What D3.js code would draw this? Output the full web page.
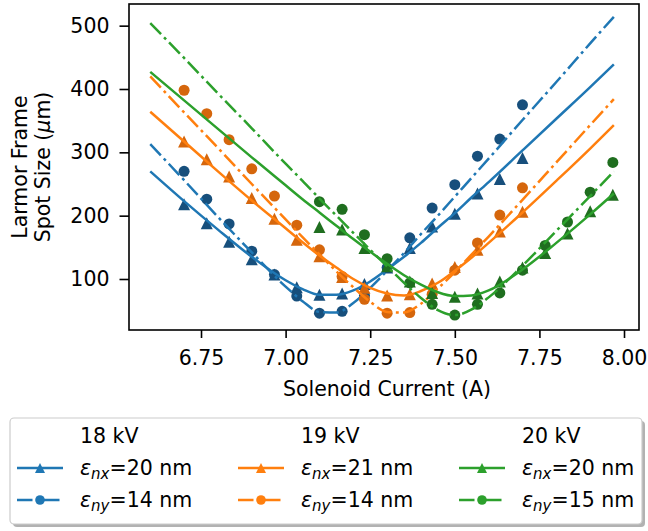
<!DOCTYPE html>
<html>
<head>
<meta charset="utf-8">
<script src="https://cdn.jsdelivr.net/npm/d3@7.9.0/dist/d3.min.js"></script>
<style>
  body { margin: 0; background: #fff; }
  svg { display: block; font-family: "DejaVu Sans", sans-serif; }
</style>
</head>
<body>
<svg id="chart" width="648" height="531"></svg>
<script>
// ---------------- data ----------------
const energies = ["18 kV", "19 kV", "20 kV"];
const emitX = [20, 21, 20];
const emitY = [14, 14, 15];

// measured spot sizes (um)
const currents18 = [6.7, 6.767, 6.833, 6.9, 6.967, 7.033, 7.1, 7.167, 7.233, 7.3, 7.367, 7.433, 7.5, 7.567, 7.633, 7.7];
const currents19 = [6.7, 6.767, 6.833, 6.9, 6.967, 7.033, 7.1, 7.167, 7.233, 7.3, 7.367, 7.433, 7.5, 7.567, 7.633, 7.7];
const currents20 = [7.1, 7.167, 7.233, 7.3, 7.367, 7.433, 7.5, 7.567, 7.633, 7.7, 7.767, 7.833, 7.9, 7.967];

const sizeX18 = [218, 188, 159, 131, 107, 87, 75, 77, 92, 118, 149, 183, 203, 235, 258, 291];
const sizeY18 = [270, 226, 187, 144, 107, 73, 46, 49, 74, 118, 165, 212, 249, 294, 321, 375];
const sizeX19 = [317, 289, 262, 228, 195, 162, 136, 103, 86, 74, 76, 93, 119, 146, 175, 206];
const sizeY19 = [398, 361, 320, 274, 231, 185, 146, 104, 68, 46, 47, 76, 114, 157, 201, 244];
const sizeX20 = [182, 178, 149, 120, 96, 78, 72, 77, 96, 118, 141, 172, 207, 233];
const sizeY20 = [222, 210, 170, 132, 94, 60, 43, 60, 78, 114, 153, 190, 237, 284];

// fitted envelopes
const fitCurrents = [6.6, 6.7, 6.8, 6.9, 7.0, 7.05, 7.1, 7.15, 7.2, 7.25, 7.3, 7.35, 7.4, 7.45, 7.5, 7.55, 7.6, 7.7, 7.8, 7.9, 7.97];
const fitX18 = [270, 223, 178, 135, 98, 84, 75, 75, 82, 96, 115, 135, 157, 181, 204, 229, 253, 303, 353, 403, 439];
const fitY18 = [313, 256, 198, 142, 88, 65, 48, 47, 62, 86, 113, 141, 171, 200, 230, 260, 290, 351, 411, 472, 514];
const fitX19 = [364, 317, 270, 224, 180, 158, 137, 118, 100, 86, 77, 74, 81, 94, 113, 134, 157, 205, 255, 306, 343];
const fitY19 = [420, 363, 307, 250, 194, 166, 139, 112, 87, 64, 48, 47, 61, 85, 111, 139, 167, 225, 284, 343, 384];
const fitX20 = [427, 382, 337, 292, 248, 226, 205, 184, 163, 143, 124, 106, 91, 79, 73, 74, 82, 115, 157, 202, 235];
const fitY20 = [504, 449, 393, 338, 282, 255, 227, 200, 173, 146, 120, 94, 70, 51, 43, 52, 71, 121, 176, 231, 270];

const xTicks = [6.75, 7.00, 7.25, 7.50, 7.75, 8.00];
const yTicks = [100, 200, 300, 400, 500];

const lineColors = ["#1f77b4", "#ff7f0e", "#2ca02c"];
const markColors = ["#174f7c", "#d5660c", "#1f6e1f"];

const groups = [
  { cur: currents18, sx: sizeX18, sy: sizeY18, fx: fitX18, fy: fitY18 },
  { cur: currents19, sx: sizeX19, sy: sizeY19, fx: fitX19, fy: fitY19 },
  { cur: currents20, sx: sizeX20, sy: sizeY20, fx: fitX20, fy: fitY20 }
];

// ---------------- layout ----------------
const svg = d3.select("#chart");
const plot = { left: 129, right: 639, top: 4, bottom: 330 };
const fs = "20.5px";

const x = d3.scaleLinear().domain([6.5372, 8.0443]).range([plot.left, plot.right]);
const y = d3.scaleLinear().domain([19.47, 534.2]).range([plot.bottom, plot.top]);

const dashDot = "15.5,4.3,2.9,4.3";
const tri = h => `M0,${-h}L${h},${h}L${-h},${h}Z`;

// ---------------- series ----------------
const line = d3.line().x(d => x(d[0])).y(d => y(d[1])).curve(d3.curveMonotoneX);

groups.forEach((g, i) => {
  const gg = svg.append("g");
  gg.selectAll("path.tri").data(d3.zip(g.cur, g.sx)).enter().append("path")
    .attr("class", "tri")
    .attr("d", tri(6))
    .attr("transform", d => `translate(${x(d[0])},${y(d[1])})`)
    .attr("fill", markColors[i]);
  gg.selectAll("circle").data(d3.zip(g.cur, g.sy)).enter().append("circle")
    .attr("cx", d => x(d[0])).attr("cy", d => y(d[1]))
    .attr("r", 5.5)
    .attr("fill", markColors[i]);
  gg.append("path").datum(d3.zip(fitCurrents, g.fx))
    .attr("d", line).attr("fill", "none")
    .attr("stroke", lineColors[i]).attr("stroke-width", 2.5);
  gg.append("path").datum(d3.zip(fitCurrents, g.fy))
    .attr("d", line).attr("fill", "none")
    .attr("stroke", lineColors[i]).attr("stroke-width", 2.5)
    .attr("stroke-dasharray", dashDot);
});

// ---------------- axes ----------------
const xAxis = svg.append("g").attr("transform", `translate(0,${plot.bottom})`)
  .call(d3.axisBottom(x).tickValues(xTicks).tickFormat(d3.format(".2f")).tickSize(8).tickPadding(12.5).tickSizeOuter(0));
const yAxis = svg.append("g").attr("transform", `translate(${plot.left},0)`)
  .call(d3.axisLeft(y).tickValues(yTicks).tickSize(9.5).tickPadding(10).tickSizeOuter(0));

[xAxis, yAxis].forEach(a => {
  a.select(".domain").remove();
  a.selectAll("line").attr("stroke", "#000").attr("stroke-width", 1.6);
  a.selectAll("text").attr("font-size", fs).attr("fill", "#000")
    .attr("font-family", "DejaVu Sans");
});

svg.append("rect")
  .attr("x", plot.left).attr("y", plot.top)
  .attr("width", plot.right - plot.left).attr("height", plot.bottom - plot.top)
  .attr("fill", "none").attr("stroke", "#000").attr("stroke-width", 1.6);

svg.append("text")
  .attr("x", (plot.left + plot.right) / 2 + 3).attr("y", 396)
  .attr("text-anchor", "middle").attr("font-size", fs)
  .text("Solenoid Current (A)");

const yl = svg.append("g").attr("transform", `translate(0,${(plot.top + plot.bottom) / 2}) rotate(-90)`);
yl.append("text").attr("x", 0).attr("y", 27).attr("text-anchor", "middle").attr("font-size", fs)
  .text("Larmor Frame");
const yl2 = yl.append("text").attr("x", 0).attr("y", 50).attr("text-anchor", "middle").attr("font-size", fs);
yl2.append("tspan").text("Spot Size (");
yl2.append("tspan").attr("font-style", "italic").text("μ");
yl2.append("tspan").text("m)");

// ---------------- legend ----------------
const leg = svg.append("g");
leg.append("rect").attr("x", 13).attr("y", 421).attr("width", 632).attr("height", 106)
  .attr("rx", 4).attr("fill", "#000").attr("opacity", 0.3);
leg.append("rect").attr("x", 10).attr("y", 418).attr("width", 632).attr("height", 106)
  .attr("rx", 4).attr("fill", "#fff").attr("stroke", "#cccccc").attr("stroke-width", 1.2);

const colHandle = [17, 238, 459];
const colText = [80, 301, 522];
const rowY = [436, 468, 500];

energies.forEach((e, i) => {
  leg.append("text").attr("x", colText[i]).attr("y", rowY[0] + 7).attr("font-size", fs).text(e);

  [0, 1].forEach(r => {
    const cy = rowY[r + 1];
    leg.append("line")
      .attr("x1", colHandle[i]).attr("x2", colHandle[i] + 46)
      .attr("y1", cy).attr("y2", cy)
      .attr("stroke", lineColors[i]).attr("stroke-width", 2.5)
      .attr("stroke-dasharray", r === 1 ? dashDot : null);
    if (r === 0) {
      leg.append("path").attr("d", tri(5))
        .attr("transform", `translate(${colHandle[i] + 23},${cy})`).attr("fill", lineColors[i]);
    } else {
      leg.append("circle").attr("cx", colHandle[i] + 23).attr("cy", cy).attr("r", 4.8)
        .attr("fill", lineColors[i]);
    }
    const t = leg.append("text").attr("x", colText[i]).attr("y", cy + 7).attr("font-size", fs);
    t.append("tspan").attr("font-style", "italic").text("ε");
    t.append("tspan").attr("font-style", "italic").attr("font-size", "15px").attr("dy", 4)
      .text(r === 0 ? "nx" : "ny");
    t.append("tspan").attr("dy", -4).text(`=${r === 0 ? emitX[i] : emitY[i]} nm`);
  });
});
</script>
</body>
</html>
